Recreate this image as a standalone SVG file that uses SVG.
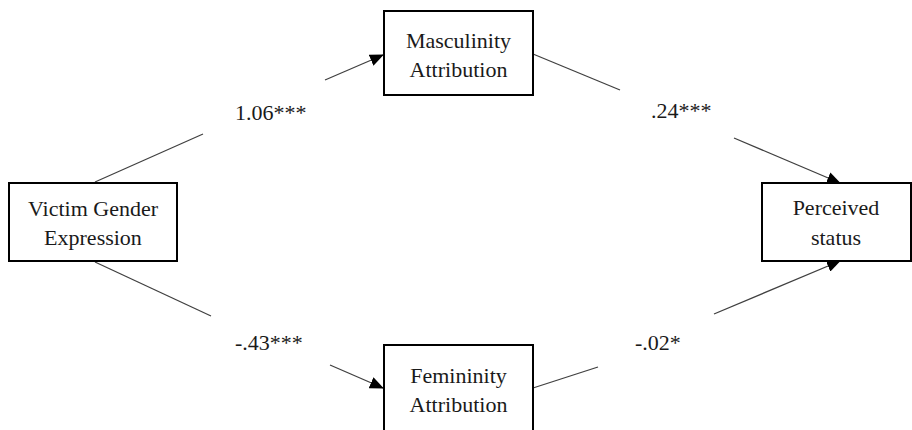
<svg xmlns="http://www.w3.org/2000/svg" width="912" height="430" viewBox="0 0 912 430">
<style>
.box{fill:#fff;stroke:#000;stroke-width:2}
text{font-family:'Liberation Serif','Times New Roman',Tinos,'DejaVu Serif','Noto Serif',serif;font-size:22px;fill:#1a1a1a}
.t{text-anchor:middle}
.ln{stroke:#404040;stroke-width:1.3;fill:none}
</style>
<defs>
<marker id="ah" markerWidth="14" markerHeight="12" refX="13" refY="6" orient="auto" markerUnits="userSpaceOnUse">
<path d="M0,0 L14,6 L0,12 Z" fill="#000"/>
</marker>
</defs>
<rect width="912" height="430" fill="#fff"/>
<g id="connectors">
<line class="ln" x1="95" y1="182" x2="203" y2="134"/>
<line class="ln" x1="325" y1="80" x2="383" y2="55" marker-end="url(#ah)"/>
<line class="ln" x1="533" y1="54" x2="620" y2="90"/>
<line class="ln" x1="734" y1="138" x2="840" y2="183" marker-end="url(#ah)"/>
<line class="ln" x1="95" y1="262" x2="211" y2="316"/>
<line class="ln" x1="330" y1="365" x2="383" y2="388" marker-end="url(#ah)"/>
<line class="ln" x1="533" y1="388" x2="598" y2="367"/>
<line class="ln" x1="714" y1="314" x2="840" y2="261" marker-end="url(#ah)"/>
</g>
<g id="victim">
<rect class="box" x="9" y="183" width="168" height="78"/>
<text class="t" x="93" y="216">Victim Gender</text>
<text class="t" x="93" y="245">Expression</text>
</g>
<g id="masculinity">
<rect class="box" x="384" y="11" width="149" height="84"/>
<text class="t" x="458.5" y="48">Masculinity</text>
<text class="t" x="458.5" y="77">Attribution</text>
</g>
<g id="femininity">
<rect class="box" x="384" y="345" width="149" height="90"/>
<text class="t" x="458.5" y="383">Femininity</text>
<text class="t" x="458.5" y="412">Attribution</text>
</g>
<g id="perceived">
<rect class="box" x="762" y="183" width="149" height="78"/>
<text class="t" x="836" y="215">Perceived</text>
<text class="t" x="836" y="245">status</text>
</g>
<g id="labels">
<text x="235" y="120">1.06***</text>
<text x="651" y="118">.24***</text>
<text x="235" y="350">-.43***</text>
<text x="635" y="350">-.02*</text>
</g>
</svg>
